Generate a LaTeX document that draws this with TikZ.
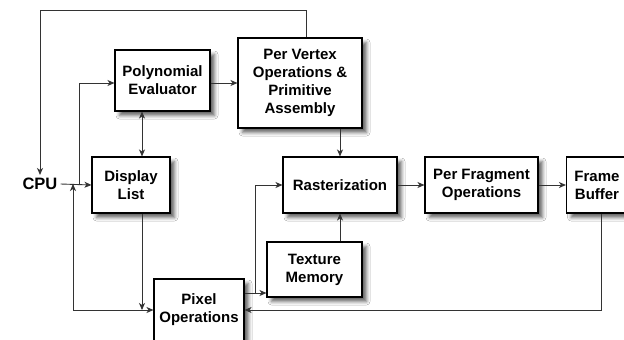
\documentclass[tikz,border=0pt]{standalone}
\usepackage{fontspec}
\setmainfont{Liberation Sans}
\usetikzlibrary{arrows.meta,shadows.blur}
\begin{document}
\begin{tikzpicture}[x=1pt,y=-1pt,
  block/.style={draw=black, line width=1.1pt, fill=white, align=center,
    inner sep=2pt, font=\fontsize{15}{18}\selectfont\bfseries,
    blur shadow={shadow xshift=4.5pt, shadow yshift=-4.5pt, shadow blur radius=3.5pt, shadow opacity=60}},
  link/.style={draw=black!80, line width=0.9pt},
  arr/.style={link, -{Stealth[length=7pt,width=6pt,inset=2pt]}},
  darr/.style={link, {Stealth[length=7pt,width=6pt,inset=2pt]}-{Stealth[length=7pt,width=6pt,inset=2pt]}}]
\useasboundingbox (0,0) rectangle (624,340);
\clip (0,0) rectangle (624,340);
\fill[white] (0,0) rectangle (624,340);

% processing blocks
\node[block, minimum width=95pt, minimum height=61pt] (poly) at (162.5,80.5) {Polynomial\\Evaluator};
\node[block, minimum width=124pt, minimum height=90pt] (vert) at (300,83) {Per Vertex\\Operations \&\\Primitive\\Assembly};
\node[block, minimum width=78pt, minimum height=56pt] (disp) at (131,185) {Display\\List};
\node[block, minimum width=114pt, minimum height=56pt] (rast) at (340,185) {Rasterization};
\node[block, minimum width=113pt, minimum height=56pt] (frag) at (481.5,185) {Per Fragment\\Operations};
\node[block, minimum width=61pt, minimum height=56pt] (fb) at (597,185) {Frame\\Buffer};
\node[block, minimum width=95pt, minimum height=55pt] (tex) at (314.5,269.5) {Texture\\Memory};
\node[block, minimum width=90pt, minimum height=62pt] (pix) at (199,310) {Pixel\\Operations};
\node[font=\fontsize{16.5}{19}\selectfont\bfseries, inner sep=3pt] (cpu) at (40,184) {CPU};

% routing points
\coordinate (jcpu) at (79,184);
\coordinate (jin) at (73,184);
\coordinate (col) at (142,0);
\coordinate (jtex) at (255,293);
\coordinate (colfb) at (601,0);
\coordinate (toprt) at (306,10);
\coordinate (toplt) at (40,10);

% connectors
\draw[arr] (cpu.east) -- (disp.west);
\draw[arr] (jcpu) |- (poly.west |- vert.west);
\draw[arr] (poly.east |- vert.west) -- (vert.west);
\draw[darr] (poly.south -| col) -- (disp.north -| col);
\draw[arr] (disp.south -| col) -- (col |- pix.west);
\draw[darr] (jin) |- (pix.west);
\draw[arr] (vert.south -| rast.north) -- (rast.north);
\draw[arr] (rast.east) -- (frag.west);
\draw[arr] (frag.east) -- (fb.west);
\draw[arr] (tex.north -| rast.south) -- (rast.south);
\draw[link] (pix.east |- jtex) -- (jtex);
\draw[arr] (jtex) -- (tex.west |- jtex);
\draw[arr] (jtex) |- (rast.west);
\draw[arr] (fb.south -| colfb) |- (pix.east);
\draw[arr] (vert.north -| toprt) -- (toprt) -- (toplt) -- (cpu.north -| toplt);
\end{tikzpicture}
\end{document}
